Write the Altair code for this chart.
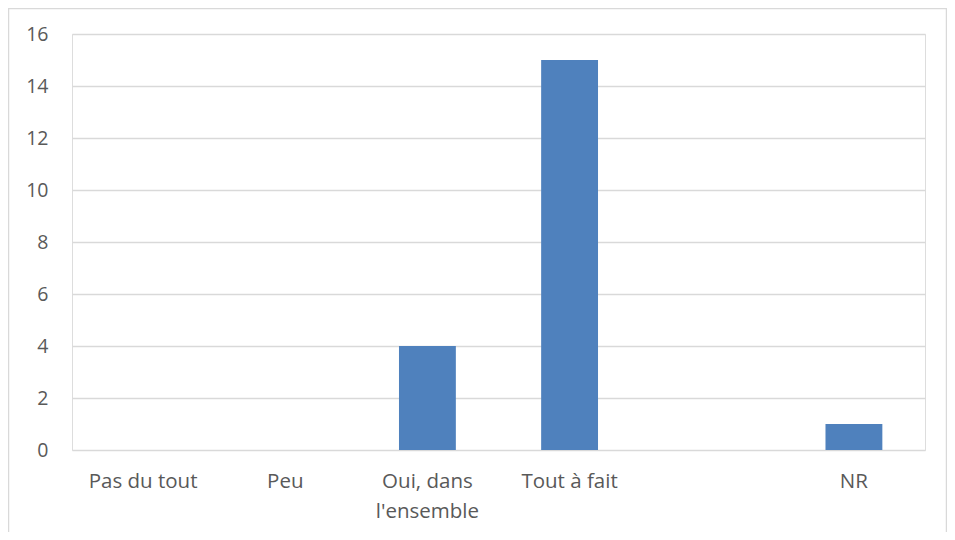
import altair as alt
import pandas as pd

categories = ["Pas du tout", "Peu", "Oui, dans l'ensemble", "Tout à fait", " ", "NR"]
values = [0, 0, 4, 15, 0, 1]
y_ticks = [0, 2, 4, 6, 8, 10, 12, 14, 16]

df = pd.DataFrame({"cat": categories, "val": values})

FONT = "Open Sans"
TXT = "#595959"
GRID = "#d9d9d9"

bars = alt.Chart(df).mark_bar(color="#4F81BD").encode(
    x=alt.X(
        "cat:N",
        sort=categories,
        scale=alt.Scale(paddingInner=0.6, paddingOuter=0.3),
        axis=alt.Axis(
            title=None,
            labelAngle=0,
            domain=False,
            ticks=False,
            labelPadding=21,
            labelFont=FONT,
            labelFontSize=20.5,
            labelColor=TXT,
            labelLineHeight=30,
            labelExpr="datum.value == \"Oui, dans l'ensemble\" ? ['Oui, dans', \"l'ensemble\"] : datum.value",
        ),
    ),
    y=alt.Y(
        "val:Q",
        scale=alt.Scale(domain=[0, 16], nice=False),
        axis=alt.Axis(
            title=None,
            values=y_ticks,
            domain=False,
            ticks=False,
            labelPadding=24,
            labelFont=FONT,
            labelFontSize=19.5,
            labelColor=TXT,
            grid=True,
            gridColor=GRID,
            gridWidth=1.4,
        ),
    ),
)

border = alt.Chart(pd.DataFrame({"a": [0]})).mark_rect(
    fill=None, stroke=GRID, strokeWidth=1.5, clip=False
).encode(
    x=alt.value(-63.5),
    x2=alt.value(874.5),
    y=alt.value(-25.5),
    y2=alt.value(560),
)

chart = alt.layer(border, bars).properties(
    width=853,
    height=416,
    autosize="none",
    padding={"left": 64, "top": 26, "right": 22, "bottom": 82},
).configure_view(stroke=None).configure(background="white")

chart.save("out.html", embed_options={"renderer": "svg", "actions": False})
